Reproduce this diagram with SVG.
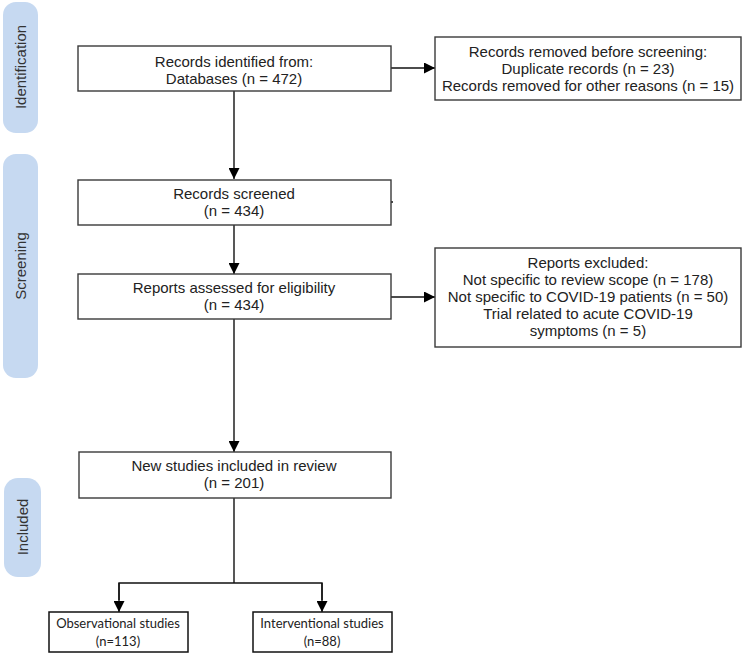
<svg xmlns="http://www.w3.org/2000/svg" width="749" height="657" viewBox="0 0 749 657">
<defs>
<style>
.bar{fill:#c6d9f1;}
.barT{font-family:"Liberation Sans",Arial,sans-serif;font-size:15px;fill:#333;text-anchor:middle;}
.box{fill:#fff;stroke:#3a3a3a;stroke-width:1.4;}
.box2{fill:#fff;stroke:#111;stroke-width:1.5;}
.t{font-family:"Liberation Sans",Arial,sans-serif;font-size:15px;fill:#222;text-anchor:middle;}
.c{font-family:Lato,"Open Sans",sans-serif;font-size:13px;fill:#222;text-anchor:middle;}
.ln{fill:none;stroke:#111;stroke-width:1.4;}
</style>
<marker id="ah" viewBox="0 0 10 10" refX="10" refY="5" markerWidth="11" markerHeight="11" markerUnits="userSpaceOnUse" orient="auto">
<path d="M0,0 L10,5 L0,10 Z" fill="#000"/>
</marker>
</defs>
<rect width="749" height="657" fill="#fff"/>

<g id="bar-identification">
<rect class="bar" x="3" y="2" width="35" height="131" rx="13"/>
<text class="barT" transform="translate(26,67) rotate(-90)">Identification</text>
</g>
<g id="bar-screening">
<rect class="bar" x="3" y="154" width="35" height="224" rx="13"/>
<text class="barT" transform="translate(26,266) rotate(-90)">Screening</text>
</g>
<g id="bar-included">
<rect class="bar" x="4" y="478" width="37" height="99" rx="14"/>
<text class="barT" transform="translate(28,527) rotate(-90)">Included</text>
</g>

<g id="connectors">
<line class="ln" x1="391" y1="68" x2="435" y2="68" marker-end="url(#ah)"/>
<line class="ln" x1="234" y1="91" x2="234" y2="179" marker-end="url(#ah)"/>
<line class="ln" x1="234" y1="225" x2="234" y2="274" marker-end="url(#ah)"/>
<line class="ln" x1="391" y1="297" x2="435" y2="297" marker-end="url(#ah)"/>
<line class="ln" x1="234" y1="319" x2="234" y2="452" marker-end="url(#ah)"/>
<polyline class="ln" points="234,498 234,583"/>
<polyline class="ln" points="119,600 119,583 322,583 322,600"/>
<line class="ln" x1="119" y1="583" x2="119" y2="612" marker-end="url(#ah)"/>
<line class="ln" x1="322" y1="583" x2="322" y2="612" marker-end="url(#ah)"/>
<line class="ln" x1="391" y1="202" x2="393" y2="202"/>
</g>

<g id="n-identified">
<rect class="box" x="78" y="46" width="313" height="45"/>
<text class="t" x="234" y="67">Records identified from:</text>
<text class="t" x="234" y="84">Databases (n = 472)</text>
</g>
<g id="n-removed">
<rect class="box" x="435" y="37" width="306" height="63"/>
<text class="t" x="588" y="57">Records removed before screening:</text>
<text class="t" x="588" y="74">Duplicate records (n = 23)</text>
<text class="t" x="588" y="91">Records removed for other reasons (n = 15)</text>
</g>
<g id="n-screened">
<rect class="box" x="78" y="180" width="313" height="45"/>
<text class="t" x="234" y="199">Records screened</text>
<text class="t" x="234" y="216">(n = 434)</text>
</g>
<g id="n-assessed">
<rect class="box" x="78" y="274" width="313" height="45"/>
<text class="t" x="234" y="293">Reports assessed for eligibility</text>
<text class="t" x="234" y="310">(n = 434)</text>
</g>
<g id="n-excluded">
<rect class="box" x="435" y="248" width="306" height="99"/>
<text class="t" x="588" y="268">Reports excluded:</text>
<text class="t" x="588" y="285">Not specific to review scope (n =  178)</text>
<text class="t" x="588" y="302">Not specific to COVID-19 patients (n =  50)</text>
<text class="t" x="588" y="319">Trial related to acute COVID-19</text>
<text class="t" x="588" y="336">symptoms (n =  5)</text>
</g>
<g id="n-included">
<rect class="box" x="79" y="452" width="312" height="46"/>
<text class="t" x="234" y="471">New studies included in review</text>
<text class="t" x="234" y="488">(n = 201)</text>
</g>
<g id="n-observational">
<rect class="box2" x="49" y="612" width="139" height="40"/>
<text class="c" x="118" y="628">Observational studies</text>
<text class="c" x="118" y="646">(n=113)</text>
</g>
<g id="n-interventional">
<rect class="box2" x="253" y="612" width="139" height="40"/>
<text class="c" x="322" y="628">Interventional studies</text>
<text class="c" x="322" y="646">(n=88)</text>
</g>
</svg>
